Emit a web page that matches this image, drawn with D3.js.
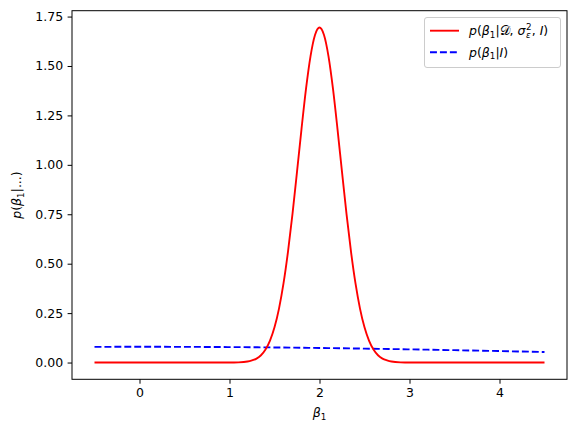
<!DOCTYPE html>
<head>
    <script src="https://d3js.org/d3.v7.min.js"></script>
</head>
<body style="margin:0; background:#fff">
    <svg width="577" height="433"></svg>
    <script>
        // posterior (red)
        var postX = [-0.5, 0, 0.5, 1.0, 1.1, 1.2, 1.25, 1.3, 1.35, 1.4, 1.45, 1.5, 1.55, 1.6, 1.65, 1.7, 1.75, 1.8, 1.85, 1.9, 1.95, 2.0,
                     2.05, 2.1, 2.15, 2.2, 2.25, 2.3, 2.35, 2.4, 2.45, 2.5, 2.55, 2.6, 2.65, 2.7, 2.75, 2.8, 2.9, 3.0, 3.5, 4.0, 4.5];
        var postY = [0, 0, 0, 0, 0.001, 0.005, 0.011, 0.020, 0.037, 0.066, 0.111, 0.178, 0.273, 0.400, 0.561, 0.752, 0.964, 1.181, 1.384, 1.549, 1.657, 1.695,
                     1.657, 1.549, 1.384, 1.181, 0.964, 0.752, 0.561, 0.400, 0.273, 0.178, 0.111, 0.066, 0.037, 0.020, 0.011, 0.005, 0.001, 0, 0, 0, 0];
        // prior (blue dashed)
        var priorX = [-0.5, 0, 0.5, 1.0, 1.5, 2.0, 2.5, 3.0, 3.5, 4.0, 4.5];
        var priorY = [0.0792, 0.0798, 0.0792, 0.0782, 0.0763, 0.0737, 0.0704, 0.0667, 0.0625, 0.0580, 0.0532];

        var xTicks = [0, 1, 2, 3, 4];
        var yTicks = [0, 0.25, 0.5, 0.75, 1.0, 1.25, 1.5, 1.75];

        var FONT = "DejaVu Sans";
        var svg = d3.select("svg");
        var mLeft = 72, mRight = 567, mTop = 10.7, mBottom = 379.3;

        var x = d3.scaleLinear().domain([-0.75, 4.75]).range([mLeft, mRight]);
        var y = d3.scaleLinear().domain([-0.0848, 1.7797]).range([mBottom, mTop]);

        // writes mathtext-like pieces: [text, italic, level (0 base, 1 sup, -1 sub), dx]
        function mathText(t, parts, size) {
            var cur = 0;
            parts.forEach(function(p) {
                var s = t.append("tspan").text(p[0]);
                if (p[1]) s.attr("font-style", "italic");
                var lvl = p[2] || 0;
                var off = lvl == 1 ? -0.4 * size : (lvl == -1 ? 0.2 * size : 0);
                if (off != cur) s.attr("dy", off - cur);
                cur = off;
                if (lvl != 0) s.attr("font-size", size * 0.7);
                if (p[3] != null) s.attr("dx", p[3]);
            });
        }

        var line = d3.line().curve(d3.curveMonotoneX)
            .x(function(d) { return x(d[0]); })
            .y(function(d) { return y(d[1]); });

        svg.append("path")
            .datum(priorX.map(function(v, i) { return [v, priorY[i]]; }))
            .attr("d", line)
            .style("fill", "none")
            .style("stroke", "#0000ff")
            .style("stroke-width", 1.875)
            .style("stroke-dasharray", "6.94,3");

        svg.append("path")
            .datum(postX.map(function(v, i) { return [v, postY[i]]; }))
            .attr("d", line)
            .style("fill", "none")
            .style("stroke", "#ff0000")
            .style("stroke-width", 1.875);

        // axes
        var gx = svg.append("g").attr("transform", "translate(0," + mBottom + ")")
            .call(d3.axisBottom(x).tickValues(xTicks).tickSize(4.4).tickPadding(4.4).tickFormat(d3.format("d")));
        var gy = svg.append("g").attr("transform", "translate(" + mLeft + ",0)")
            .call(d3.axisLeft(y).tickValues(yTicks).tickSize(4.4).tickPadding(4.4).tickFormat(d3.format(".2f")));
        [gx, gy].forEach(function(g) {
            g.select(".domain").remove();
            g.selectAll("text").attr("font-family", FONT).attr("font-size", 12.5).attr("fill", "#000");
            g.selectAll("line").attr("stroke", "#000").attr("stroke-width", 1);
        });

        svg.append("rect")
            .attr("x", mLeft).attr("y", mTop)
            .attr("width", mRight - mLeft).attr("height", mBottom - mTop)
            .style("fill", "none").style("stroke", "#000").style("stroke-width", 1);

        // axis labels
        var xl = svg.append("text")
            .attr("x", (mLeft + mRight) / 2).attr("y", 417)
            .attr("text-anchor", "middle")
            .attr("font-family", FONT).attr("font-size", 12.5);
        mathText(xl, [["β", 1], ["1", 0, -1]], 12.5);

        var yl = svg.append("text")
            .attr("transform", "translate(21," + ((mTop + mBottom) / 2) + ") rotate(-90)")
            .attr("text-anchor", "middle")
            .attr("font-family", FONT).attr("font-size", 12.5);
        mathText(yl, [["p", 1], ["("], ["β", 1], ["1", 0, -1], ["|...)"]], 12.5);

        // legend
        var lg = svg.append("g");
        lg.append("rect")
            .attr("x", 424.5).attr("y", 17.5).attr("width", 136).attr("height", 50)
            .attr("rx", 2.5)
            .style("fill", "#fff").style("fill-opacity", 0.8)
            .style("stroke", "#cccccc").style("stroke-width", 1);

        lg.append("line").attr("x1", 430).attr("x2", 459).attr("y1", 30.7).attr("y2", 30.7)
            .style("stroke", "#ff0000").style("stroke-width", 1.875);
        lg.append("line").attr("x1", 430).attr("x2", 459).attr("y1", 52.3).attr("y2", 52.3)
            .style("stroke", "#0000ff").style("stroke-width", 1.875).style("stroke-dasharray", "6.94,3");

        var t1 = lg.append("text").attr("x", 469).attr("y", 35)
            .attr("font-family", FONT).attr("font-size", 12.5);
        mathText(t1, [["p", 1], ["("], ["β", 1], ["1", 0, -1], ["|"], ["𝒟"], [", "],
            ["σ", 1], ["2", 0, 1, 0.5], ["ε", 1, -1, -5.6], [", ", 0, 0, 1], ["I", 1], [")"]], 12.5);

        var t2 = lg.append("text").attr("x", 469).attr("y", 56.5)
            .attr("font-family", FONT).attr("font-size", 12.5);
        mathText(t2, [["p", 1], ["("], ["β", 1], ["1", 0, -1], ["|"], ["I", 1], [")"]], 12.5);
    </script>
</body>
